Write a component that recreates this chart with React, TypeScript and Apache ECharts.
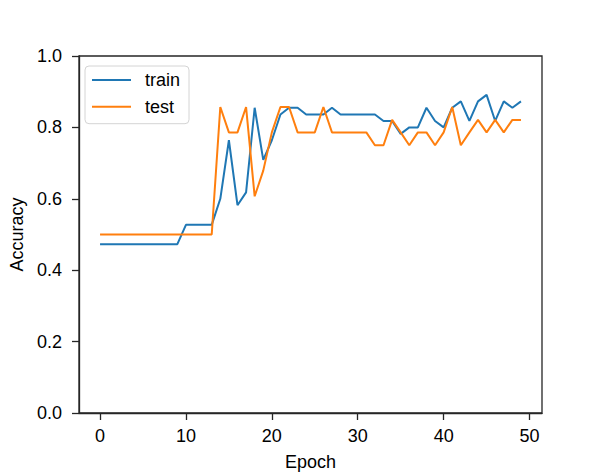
import React, { useEffect, useRef } from "react";
import * as echarts from "echarts";

const train = [
  0.473, 0.473, 0.473, 0.473, 0.473, 0.473, 0.473, 0.473, 0.473, 0.473,
  0.527, 0.527, 0.527, 0.527, 0.6, 0.764, 0.582, 0.618, 0.855, 0.709,
  0.764, 0.836, 0.855, 0.855, 0.836, 0.836, 0.836, 0.855, 0.836, 0.836,
  0.836, 0.836, 0.836, 0.818, 0.818, 0.782, 0.8, 0.8, 0.855, 0.818,
  0.8, 0.855, 0.873, 0.818, 0.873, 0.891, 0.818, 0.873, 0.855, 0.873,
];

const test = [
  0.5, 0.5, 0.5, 0.5, 0.5, 0.5, 0.5, 0.5, 0.5, 0.5,
  0.5, 0.5, 0.5, 0.5, 0.857, 0.786, 0.786, 0.857, 0.607, 0.679,
  0.786, 0.857, 0.857, 0.786, 0.786, 0.786, 0.857, 0.786, 0.786, 0.786,
  0.786, 0.786, 0.75, 0.75, 0.821, 0.786, 0.75, 0.786, 0.786, 0.75,
  0.786, 0.857, 0.75, 0.786, 0.821, 0.786, 0.821, 0.786, 0.821, 0.821,
];

const xTicks = [0, 10, 20, 30, 40, 50];
const seriesNames = ["train", "test"];

const FONT = "'Liberation Sans', Arial, Helvetica, sans-serif";
const SPINE = "#262626";

export default function App() {
  const ref = useRef<HTMLDivElement>(null);

  useEffect(() => {
    if (!ref.current) return;
    const chart = echarts.init(ref.current, undefined, { renderer: "svg" });
    const toPairs = (arr: number[]) => arr.map((v, i) => [i, v]);

    chart.setOption({
      animation: false,
      backgroundColor: "#ffffff",
      textStyle: { fontFamily: FONT },
      grid: {
        left: 75,
        top: 56,
        right: 60,
        bottom: 60,
        show: true,
        borderColor: SPINE,
        borderWidth: 1.3,
        backgroundColor: "transparent",
      },
      legend: {
        data: seriesNames,
        orient: "vertical",
        left: 85,
        top: 66,
        icon: "rect",
        itemWidth: 39,
        itemHeight: 2,
        itemGap: 8.7,
        padding: [5, 9, 8, 7],
        backgroundColor: "#ffffff",
        borderColor: "#d4d4d4",
        borderWidth: 1,
        borderRadius: 4,
        textStyle: {
          fontFamily: FONT,
          fontSize: 18,
          color: "#000",
          padding: [0, 0, 0, 9],
        },
      },
      xAxis: {
        type: "value",
        min: -2.45,
        max: 51.45,
        name: "Epoch",
        nameLocation: "middle",
        nameGap: 40,
        nameTextStyle: { fontFamily: FONT, fontSize: 18, color: "#000" },
        axisLine: { show: true, onZero: false, lineStyle: { color: SPINE, width: 1.3 } },
        axisTick: {
          show: true,
          length: 7,
          inside: false,
          customValues: xTicks,
          lineStyle: { color: SPINE, width: 1.3 },
        },
        axisLabel: {
          show: true,
          customValues: xTicks,
          margin: 14,
          fontFamily: FONT,
          fontSize: 18,
          color: "#000",
        },
        splitLine: { show: false },
      },
      yAxis: {
        type: "value",
        min: 0,
        max: 1,
        interval: 0.2,
        name: "Accuracy",
        nameLocation: "middle",
        nameGap: 53,
        nameTextStyle: { fontFamily: FONT, fontSize: 18, color: "#000" },
        axisLine: { show: true, onZero: false, lineStyle: { color: SPINE, width: 1.3 } },
        axisTick: {
          show: true,
          length: 7,
          inside: false,
          lineStyle: { color: SPINE, width: 1.3 },
        },
        axisLabel: {
          show: true,
          margin: 17,
          fontFamily: FONT,
          fontSize: 18,
          color: "#000",
          formatter: (v: number) => v.toFixed(1),
        },
        splitLine: { show: false },
      },
      series: [
        {
          name: seriesNames[0],
          type: "line",
          data: toPairs(train),
          symbol: "none",
          lineStyle: { color: "#1f77b4", width: 2 },
          itemStyle: { color: "#1f77b4" },
          z: 2,
        },
        {
          name: seriesNames[1],
          type: "line",
          data: toPairs(test),
          symbol: "none",
          lineStyle: { color: "#ff7f0e", width: 2 },
          itemStyle: { color: "#ff7f0e" },
          z: 3,
        },
      ],
    });

    return () => chart.dispose();
  }, []);

  return (
    <div
      ref={ref}
      style={{ position: "fixed", left: 0, top: 0, width: 602, height: 476 }}
    />
  );
}
